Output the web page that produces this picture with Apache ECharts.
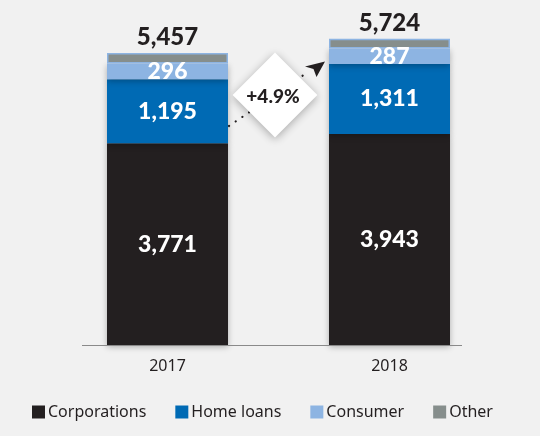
<!DOCTYPE html>
<html>
<head>
<meta charset="utf-8">
<script src="https://cdn.jsdelivr.net/npm/echarts@6/dist/echarts.min.js"></script>
<style>
html,body{margin:0;padding:0;background:#f1f1f1;}
#chart{width:540px;height:436px;}
</style>
</head>
<body>
<div id="chart"></div>
<script>
var categories = ['2017', '2018'];
var corporations = [3771, 3943];
var homeLoans = [1195, 1311];
var consumer = [296, 287];
var other = [195, 183];
var totals = [5457, 5724];
var growthLabel = '+4.9%';

function fmt(v){ return v.toLocaleString('en-US'); }

var chart = echarts.init(document.getElementById('chart'));
var FONT = 'Lato, "Noto Sans", sans-serif';
var LFONT = '"Noto Sans", Lato, sans-serif';
var shadow = {shadowBlur: 6, shadowColor: 'rgba(0,0,0,0.28)', shadowOffsetY: 2};
function inLabel(){
  return {show: true, position: 'inside', color: '#ffffff', fontFamily: FONT, fontWeight: 900, fontSize: 23,
    formatter: function(p){ return fmt(p.value); }};
}
var option = {
  backgroundColor: '#f1f1f1',
  animation: false,
  grid: {left: 56.5, right: 39.5, top: 24, bottom: 91},
  legend: {
    left: 32, top: 404, padding: 0, itemWidth: 13, itemHeight: 13, itemGap: 29, icon: 'rect',
    itemStyle: {borderWidth: 0, shadowBlur: 0},
    textStyle: {fontFamily: LFONT, fontSize: 16, color: '#231f20', padding: [0,0,0,-2]},
    data: ['Corporations', 'Home loans', 'Consumer', 'Other']
  },
  xAxis: {
    type: 'category', data: categories,
    axisLine: {show: false}, axisTick: {show: false},
    axisLabel: {color: '#231f20', fontFamily: LFONT, fontSize: 16, margin: 13}
  },
  yAxis: {type: 'value', min: 0, max: 6000, show: false, splitLine: {show: false}},
  series: [
    {name: 'Corporations', type: 'bar', stack: 't', barWidth: 121, data: corporations,
      itemStyle: Object.assign({color: '#231f20'}, shadow), label: inLabel()},
    {name: 'Home loans', type: 'bar', stack: 't', data: homeLoans,
      itemStyle: Object.assign({color: '#006ab4'}, shadow), label: inLabel()},
    {name: 'Consumer', type: 'bar', stack: 't', data: consumer,
      itemStyle: Object.assign({color: '#8db4e2'}, shadow), label: inLabel()},
    {name: 'Other', type: 'bar', stack: 't', data: other,
      itemStyle: {color: '#868e8c', borderColor: '#8db4e2', borderWidth: 1.5},
      label: {show: true, position: 'top', distance: 4, color: '#231f20', fontFamily: FONT, fontWeight: 900, fontSize: 24,
        formatter: function(p){ return fmt(totals[p.dataIndex]); }}}
  ],
  graphic: [
    {type: 'line', z: 50, shape: {x1: 229, y1: 126, x2: 308, y2: 72},
      style: {stroke: '#231f20', lineWidth: 2.2, lineDash: [0.1, 8], lineCap: 'round'}},
    {type: 'polygon', z: 51, shape: {points: [[325, 61.5], [305, 66.5], [313.5, 69], [316.5, 77]]},
      style: {fill: '#231f20'}},
    {type: 'rect', z: 52, x: 275, y: 95, originX: 0, originY: 0, rotation: Math.PI / 4,
      shape: {x: -30, y: -30, width: 60, height: 60},
      style: {fill: '#ffffff', shadowBlur: 8, shadowColor: 'rgba(0,0,0,0.3)', shadowOffsetY: 2}},
    {type: 'text', z: 53, x: 273, y: 97,
      style: {text: growthLabel, fill: '#231f20', font: '900 19px ' + FONT, textAlign: 'center', textVerticalAlign: 'middle'}},
    {type: 'line', z: 5, shape: {x1: 82, y1: 345.5, x2: 462, y2: 345.5},
      style: {stroke: '#8a8a8a', lineWidth: 1.2}}
  ]
};
chart.setOption(option);
</script>
</body>
</html>
